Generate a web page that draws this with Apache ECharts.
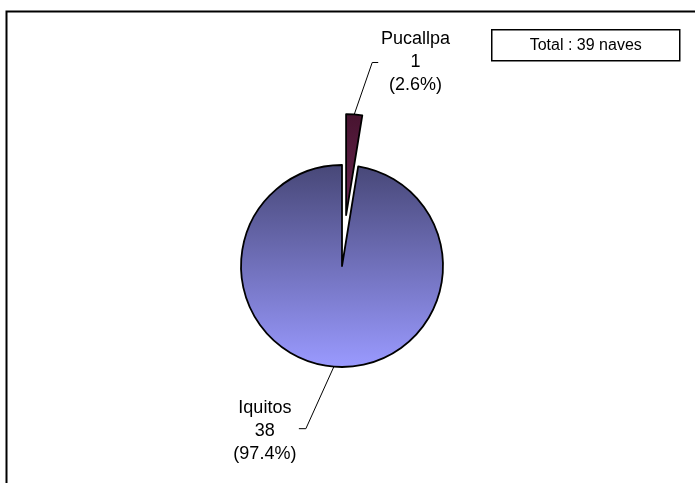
<!DOCTYPE html>
<html>
<head>
<meta charset="utf-8">
<script src="https://cdn.jsdelivr.net/npm/echarts@6/dist/echarts.min.js"></script>
<style>html,body{margin:0;padding:0;background:#fff;}#chart{width:695px;height:483px;}</style>
</head>
<body>
<div id="chart"></div>
<script>
const categories = ['Pucallpa', 'Iquitos'];
const values = [1, 38];
const totalText = 'Total : 39 naves';

const sliceColors = [
  ['#47132f', '#6a2752'],
  ['#474777', '#9a9aff']
];

const chart = echarts.init(document.getElementById('chart'));
const font = "'Liberation Sans', Arial, sans-serif";

const data = categories.map((name, i) => ({
  name: name,
  value: values[i],
  selected: i === 0,
  labelLine: i === 0 ? { length: 53, length2: 52 } : { length: 40, length2: 8 },
  itemStyle: {
    color: {
      type: 'linear', x: 0, y: 0, x2: 0, y2: 1,
      colorStops: [
        { offset: 0, color: sliceColors[i][0] },
        { offset: 1, color: sliceColors[i][1] }
      ]
    }
  }
}));

chart.setOption({
  animation: false,
  backgroundColor: '#ffffff',
  graphic: [
    {
      type: 'rect', left: 4, top: 9, z: 0,
      shape: { width: 720, height: 500 },
      style: { fill: 'none', stroke: '#000', lineWidth: 2 }
    },
    {
      type: 'group', left: 491, top: 29, z: 10,
      children: [
        { type: 'rect', shape: { x: 0, y: 0, width: 188, height: 31 },
          style: { fill: '#fff', stroke: '#000', lineWidth: 1.5 } },
        { type: 'text', x: 94, y: 16,
          style: { text: totalText, font: '16px ' + font, fill: '#000',
                   align: 'center', verticalAlign: 'middle' } }
      ]
    }
  ],
  series: [{
    type: 'pie',
    center: [342, 266],
    radius: 101,
    startAngle: 90,
    clockwise: true,
    selectedMode: 'single',
    selectedOffset: 51,
    percentPrecision: 1,
    data: data,
    itemStyle: { borderColor: '#000', borderWidth: 1.8 },
    emphasis: { disabled: true },
    label: {
      show: true,
      position: 'outside',
      formatter: '{b}\n{c}\n({d}%)',
      fontFamily: font,
      fontSize: 18,
      lineHeight: 23,
      color: '#000',
      align: 'center'
    },
    labelLine: {
      show: true,
      lineStyle: { color: '#000', width: 1 }
    },
    labelLayout: function (params) {
      const pts = params.labelLinePoints;
      if (!pts) return {};
      const p0 = pts[0];
      if (params.dataIndex === 0) {
        const p1 = [p0[0] + 18, p0[1] - 52];
        const p2 = [p1[0] + 6, p1[1]];
        return {
          align: 'center', verticalAlign: 'middle',
          labelLinePoints: [p0, p1, p2]
        };
      } else {
        const p1 = [p0[0] - 28, p0[1] + 62];
        const p2 = [p1[0] - 7, p1[1]];
        return {
          x: p2[0] - 34, y: p2[1] + 2,
          align: 'center', verticalAlign: 'middle',
          labelLinePoints: [p0, p1, p2]
        };
      }
    }
  }]
});
</script>
</body>
</html>
